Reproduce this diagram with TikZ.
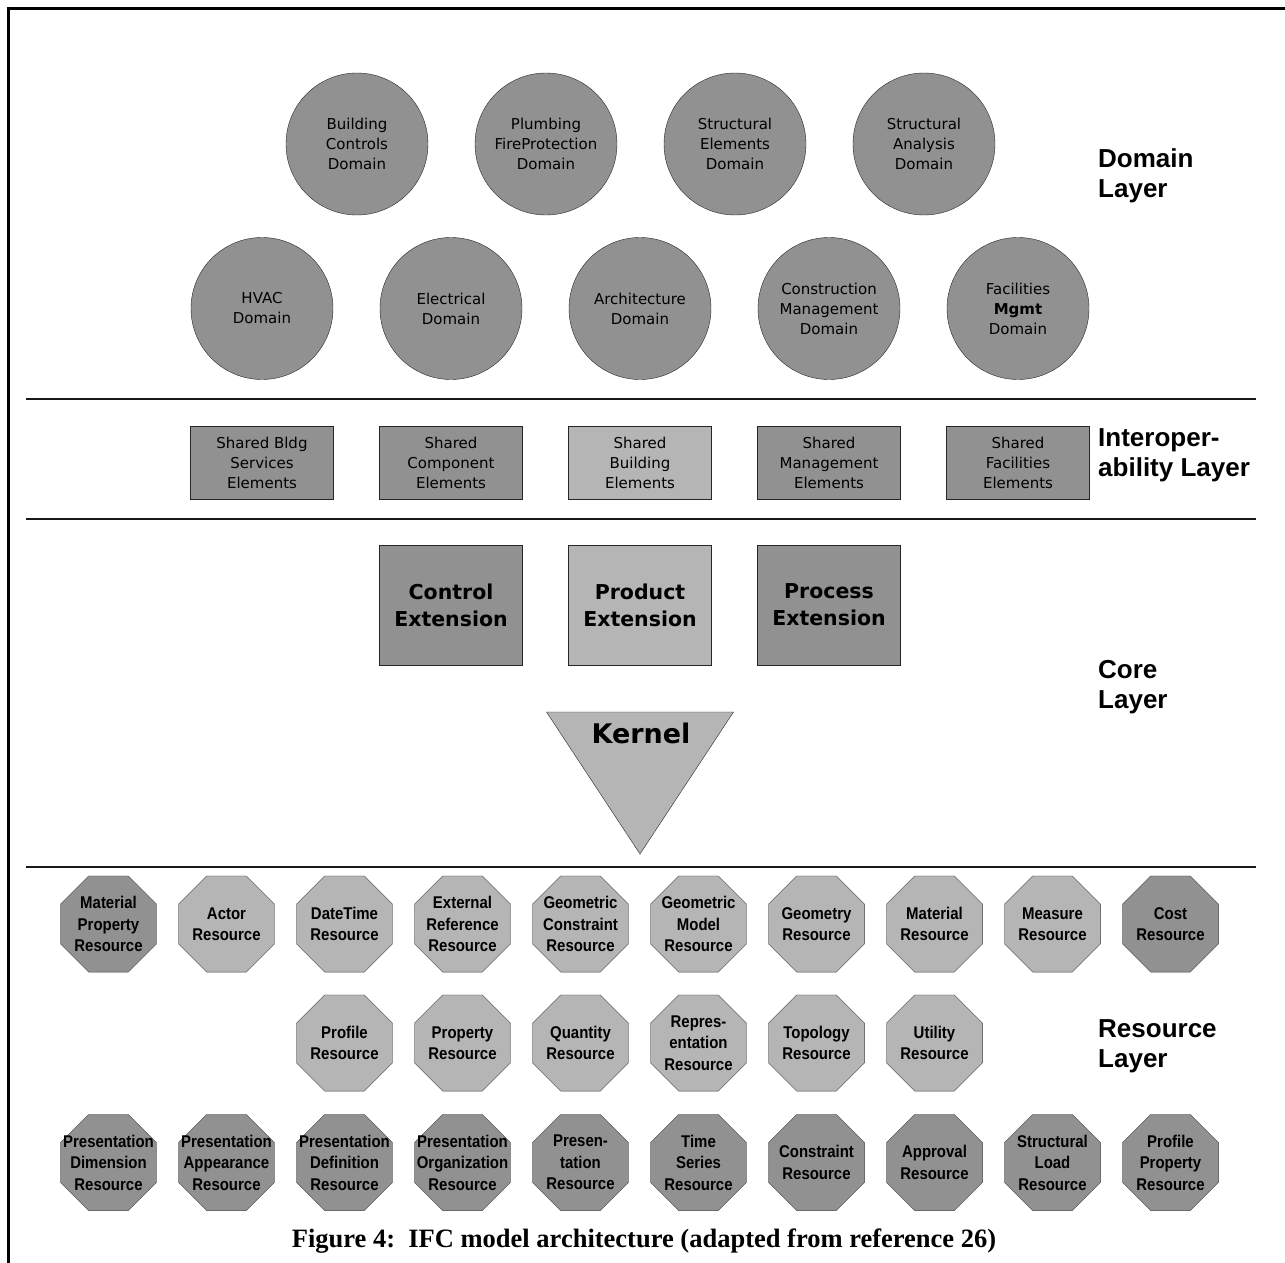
\documentclass[tikz,border=0pt]{standalone}
\usepackage{fontspec}
\usetikzlibrary{shapes.geometric}
\newfontfamily\pixfont{DejaVu Sans}
\newfontfamily\layerfont{Liberation Sans}
\newfontfamily\resfont[FakeStretch=0.88]{Liberation Sans}
\newfontfamily\capfont{Liberation Serif}
\definecolor{darkGray}{HTML}{919191}
\definecolor{lightGray}{HTML}{B5B5B5}
\tikzset{
    % abstract base node style
    base/.style = {draw=black!85, text=black, align=center, inner sep=0pt},
    % domain layer circles
    domainNode/.style = {base, circle, fill=darkGray, minimum size=142pt,
        node distance=189pt, font=\pixfont\fontsize{15}{20}\selectfont},
    % interoperability layer boxes
    shared/.style = {base, rectangle, line width=1pt, minimum width=143pt,
        minimum height=73pt, node distance=189pt, font=\pixfont\fontsize{15}{20}\selectfont},
    sharedDark/.style = {shared, fill=darkGray},
    sharedLight/.style = {shared, fill=lightGray},
    % core layer boxes
    extension/.style = {base, rectangle, line width=1pt, minimum width=143pt,
        minimum height=120pt, node distance=189pt,
        font=\pixfont\bfseries\fontsize{20.5}{27}\selectfont},
    extDark/.style = {extension, fill=darkGray},
    extLight/.style = {extension, fill=lightGray},
    % kernel triangle
    kernelShape/.style = {draw=black!85, fill=lightGray},
    kernelText/.style = {inner sep=0pt, font=\pixfont\bfseries\fontsize{27}{30}\selectfont},
    % resource layer octagons
    resource/.style = {base, draw=black!75, regular polygon, regular polygon sides=8,
        minimum size=104pt, node distance=118pt},
    resDark/.style = {resource, fill=darkGray},
    resLight/.style = {resource, fill=lightGray},
    resText/.style = {draw=none, fill=none, rectangle, inner sep=0pt, align=center,
        font=\resfont\bfseries\fontsize{17}{21.5}\selectfont},
    % layer names on the right
    layerLabel/.style = {anchor=north west, inner sep=0pt, align=left,
        font=\layerfont\bfseries\fontsize{26}{30}\selectfont},
    separator/.style = {line width=1.5pt, black!90},
    caption/.style = {anchor=base, inner sep=0pt, font=\capfont\bfseries\fontsize{26.5}{30}\selectfont}
}
\begin{document}
\begin{tikzpicture}[x=1pt, y=-1pt]
        \useasboundingbox (0,0) rectangle (1285,1263);
        % frame and layer separators
        \draw[line width=3pt] (8.5,1263) -- (8.5,8.5) -- (1285,8.5);
        \draw[separator] (26,399) -- (1256,399);
        \draw[separator] (26,519) -- (1256,519);
        \draw[separator] (26,867) -- (1256,867);
        % domain layer
        \node[domainNode] (bldgControls) at (357,144) {Building\\Controls\\Domain};
        \node[domainNode] (plumbing) [right of=bldgControls] {Plumbing\\FireProtection\\Domain};
        \node[domainNode] (structElements) [right of=plumbing] {Structural\\Elements\\Domain};
        \node[domainNode] (structAnalysis) [right of=structElements] {Structural\\Analysis\\Domain};
        \node[domainNode] (hvac) at (262,308.5) {HVAC\\Domain};
        \node[domainNode] (electrical) [right of=hvac] {Electrical\\Domain};
        \node[domainNode] (architecture) [right of=electrical] {Architecture\\Domain};
        \node[domainNode] (constrMgmt) [right of=architecture] {Construction\\Management\\Domain};
        \node[domainNode] (facilMgmt) [right of=constrMgmt] {Facilities\\\textbf{Mgmt}\\Domain};
        \node[layerLabel] (domainLayer) at (1098,148) {Domain\\Layer};
        % interoperability layer
        \node[sharedDark] (sharedServices) at (262,462.5) {Shared Bldg\\Services\\Elements};
        \node[sharedDark] (sharedComponent) [right of=sharedServices] {Shared\\Component\\Elements};
        \node[sharedLight] (sharedBuilding) [right of=sharedComponent] {Shared\\Building\\Elements};
        \node[sharedDark] (sharedMgmt) [right of=sharedBuilding] {Shared\\Management\\Elements};
        \node[sharedDark] (sharedFacilities) [right of=sharedMgmt] {Shared\\Facilities\\Elements};
        \node[layerLabel] (interopLayer) at (1098,428) {Interoper-\\ability Layer};
        % core layer
        \node[extDark] (controlExt) at (451,605) {Control\\Extension};
        \node[extLight] (productExt) [right of=controlExt] {Product\\Extension};
        \node[extDark] (processExt) [right of=productExt] {Process\\Extension};
        \coordinate (kernelLeft) at (546.5,712);
        \coordinate (kernelRight) at (733.5,712);
        \coordinate (kernelApex) at (640,854);
        \draw[kernelShape] (kernelLeft) -- (kernelRight) -- (kernelApex) -- cycle;
        \node[kernelText] (kernel) at (641,733) {Kernel};
        \node[layerLabel] (coreLayer) at (1098,660) {Core\\Layer};
        % resource layer, first row
        \node[resDark, label={[resText]center:Material\\Property\\Resource}] (matProperty) at (108.5,924) {};
        \node[resLight, label={[resText]center:Actor\\Resource}] (actor) [right of=matProperty] {};
        \node[resLight, label={[resText]center:DateTime\\Resource}] (dateTime) [right of=actor] {};
        \node[resLight, label={[resText]center:External\\Reference\\Resource}] (extReference) [right of=dateTime] {};
        \node[resLight, label={[resText]center:Geometric\\Constraint\\Resource}] (geoConstraint) [right of=extReference] {};
        \node[resLight, label={[resText]center:Geometric\\Model\\Resource}] (geoModel) [right of=geoConstraint] {};
        \node[resLight, label={[resText]center:Geometry\\Resource}] (geometry) [right of=geoModel] {};
        \node[resLight, label={[resText]center:Material\\Resource}] (material) [right of=geometry] {};
        \node[resLight, label={[resText]center:Measure\\Resource}] (measure) [right of=material] {};
        \node[resDark, label={[resText]center:Cost\\Resource}] (cost) [right of=measure] {};
        % resource layer, second row
        \node[resLight, label={[resText]center:Profile\\Resource}] (profile) at (344.5,1043) {};
        \node[resLight, label={[resText]center:Property\\Resource}] (property) [right of=profile] {};
        \node[resLight, label={[resText]center:Quantity\\Resource}] (quantity) [right of=property] {};
        \node[resLight, label={[resText]center:Repres-\\entation\\Resource}] (representation) [right of=quantity] {};
        \node[resLight, label={[resText]center:Topology\\Resource}] (topology) [right of=representation] {};
        \node[resLight, label={[resText]center:Utility\\Resource}] (utility) [right of=topology] {};
        \node[layerLabel] (resourceLayer) at (1098,1019) {Resource\\Layer};
        % resource layer, third row
        \node[resDark, label={[resText]center:Presentation\\Dimension\\Resource}] (presDimension) at (108.5,1162.5) {};
        \node[resDark, label={[resText]center:Presentation\\Appearance\\Resource}] (presAppearance) [right of=presDimension] {};
        \node[resDark, label={[resText]center:Presentation\\Definition\\Resource}] (presDefinition) [right of=presAppearance] {};
        \node[resDark, label={[resText]center:Presentation\\Organization\\Resource}] (presOrganization) [right of=presDefinition] {};
        \node[resDark, label={[resText]center:Presen-\\tation\\Resource}] (presentation) [right of=presOrganization] {};
        \node[resDark, label={[resText]center:Time\\Series\\Resource}] (timeSeries) [right of=presentation] {};
        \node[resDark, label={[resText]center:Constraint\\Resource}] (constraint) [right of=timeSeries] {};
        \node[resDark, label={[resText]center:Approval\\Resource}] (approval) [right of=constraint] {};
        \node[resDark, label={[resText]center:Structural\\Load\\Resource}] (structLoad) [right of=approval] {};
        \node[resDark, label={[resText]center:Profile\\Property\\Resource}] (profProperty) [right of=structLoad] {};
        % caption
        \node[caption] (figCaption) at (644,1247) {Figure 4:~~IFC model architecture (adapted from reference 26)};
\end{tikzpicture}
\end{document}
